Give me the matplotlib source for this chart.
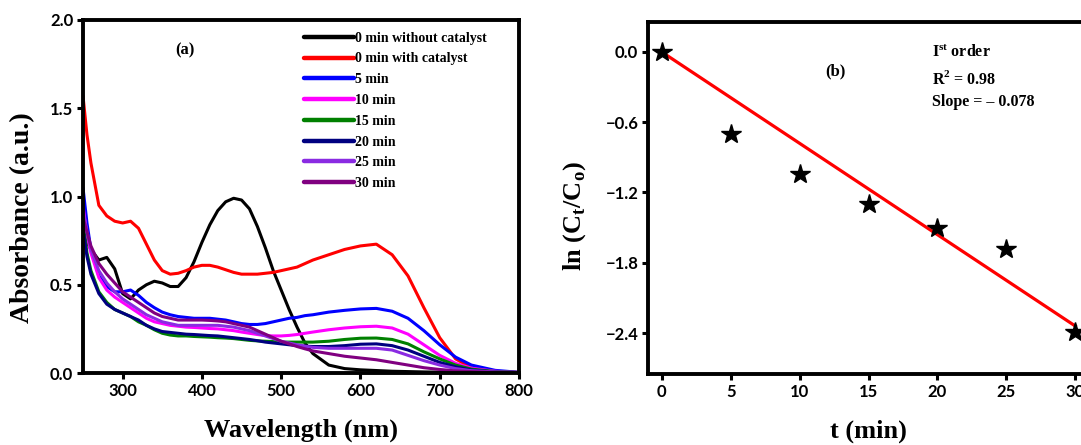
import matplotlib
matplotlib.use("Agg")
import matplotlib.pyplot as plt
from matplotlib.ticker import FuncFormatter

# ---------------- data: panel (a) UV-vis spectra ----------------
wavelength = [250, 255, 260, 270, 280, 290, 300, 310, 320, 330, 340, 350, 360, 370,
              380, 390, 400, 410, 420, 430, 440, 450, 460, 470, 480, 490, 500, 510,
              520, 530, 540, 560, 580, 600, 620, 640, 660, 680, 700, 720, 740, 770, 800]

abs_0_without = [0.80, 0.74, 0.70, 0.64, 0.655, 0.59, 0.45, 0.42, 0.47, 0.50, 0.52, 0.51, 0.49, 0.49,
                 0.54, 0.63, 0.74, 0.84, 0.92, 0.97, 0.99, 0.98, 0.93, 0.83, 0.71, 0.58, 0.47, 0.36,
                 0.26, 0.17, 0.11, 0.045, 0.025, 0.018, 0.014, 0.010, 0.008, 0.006, 0.005, 0.003, 0.002, 0.001, 0.0]
abs_0_with = [1.57, 1.35, 1.19, 0.95, 0.89, 0.86, 0.85, 0.86, 0.82, 0.73, 0.64, 0.58, 0.56, 0.565,
              0.58, 0.60, 0.61, 0.61, 0.60, 0.585, 0.57, 0.56, 0.56, 0.56, 0.565, 0.57, 0.58, 0.59,
              0.60, 0.62, 0.64, 0.67, 0.70, 0.72, 0.73, 0.67, 0.55, 0.37, 0.20, 0.08, 0.03, 0.01, 0.003]
abs_5 = [1.05, 0.85, 0.70, 0.55, 0.49, 0.46, 0.46, 0.47, 0.44, 0.40, 0.37, 0.345, 0.33, 0.32,
         0.315, 0.31, 0.31, 0.31, 0.305, 0.30, 0.29, 0.28, 0.275, 0.275, 0.28, 0.29, 0.30, 0.31,
         0.315, 0.325, 0.33, 0.345, 0.355, 0.363, 0.366, 0.35, 0.31, 0.24, 0.16, 0.09, 0.045, 0.015, 0.004]
abs_10 = [0.95, 0.78, 0.68, 0.54, 0.47, 0.43, 0.40, 0.37, 0.34, 0.31, 0.29, 0.28, 0.27, 0.265,
          0.26, 0.258, 0.255, 0.252, 0.25, 0.245, 0.24, 0.232, 0.225, 0.218, 0.212, 0.21, 0.21, 0.213,
          0.218, 0.225, 0.232, 0.245, 0.255, 0.262, 0.265, 0.255, 0.22, 0.16, 0.10, 0.055, 0.027, 0.01, 0.003]
abs_15 = [0.85, 0.68, 0.58, 0.46, 0.40, 0.36, 0.34, 0.32, 0.29, 0.27, 0.245, 0.225, 0.215, 0.21,
          0.21, 0.207, 0.205, 0.203, 0.20, 0.198, 0.195, 0.19, 0.185, 0.182, 0.18, 0.178, 0.175, 0.175,
          0.175, 0.175, 0.175, 0.18, 0.19, 0.197, 0.198, 0.19, 0.165, 0.12, 0.08, 0.045, 0.022, 0.008, 0.003]
abs_20 = [0.82, 0.66, 0.56, 0.45, 0.39, 0.36, 0.34, 0.32, 0.30, 0.27, 0.25, 0.235, 0.23, 0.225,
          0.22, 0.218, 0.215, 0.212, 0.21, 0.205, 0.20, 0.195, 0.19, 0.183, 0.175, 0.17, 0.165, 0.16,
          0.155, 0.152, 0.15, 0.15, 0.155, 0.163, 0.165, 0.155, 0.13, 0.095, 0.06, 0.035, 0.017, 0.006, 0.002]
abs_25 = [0.92, 0.80, 0.70, 0.58, 0.51, 0.46, 0.42, 0.39, 0.36, 0.33, 0.31, 0.29, 0.28, 0.27,
          0.27, 0.27, 0.27, 0.27, 0.27, 0.265, 0.26, 0.25, 0.24, 0.225, 0.21, 0.195, 0.18, 0.17,
          0.16, 0.152, 0.145, 0.14, 0.14, 0.14, 0.14, 0.13, 0.10, 0.07, 0.045, 0.025, 0.013, 0.006, 0.002]
abs_30 = [0.88, 0.80, 0.72, 0.62, 0.56, 0.51, 0.46, 0.43, 0.40, 0.37, 0.34, 0.32, 0.31, 0.30,
          0.30, 0.30, 0.30, 0.298, 0.295, 0.29, 0.28, 0.27, 0.26, 0.24, 0.22, 0.20, 0.18, 0.165,
          0.15, 0.137, 0.125, 0.11, 0.095, 0.085, 0.075, 0.06, 0.045, 0.03, 0.02, 0.012, 0.008, 0.004, 0.001]

series_labels = ["0 min without catalyst", "0 min with catalyst", "5 min", "10 min",
                 "15 min", "20 min", "25 min", "30 min"]
series_values = [abs_0_without, abs_0_with, abs_5, abs_10, abs_15, abs_20, abs_25, abs_30]
series_colors = ["#000000", "#ff0000", "#0000ff", "#ff00ff", "#008000", "#000080", "#8a2be2", "#800080"]

# ---------------- data: panel (b) kinetics ----------------
time_min = [0, 5, 10, 15, 20, 25, 30]
ln_ratio = [0.0, -0.70, -1.04, -1.30, -1.50, -1.68, -2.39]
fit_slope = -0.078
fit_intercept = 0.0

# ---------------- styling ----------------
serif = ["Liberation Serif", "DejaVu Serif"]
tickfont = ["Lato", "DejaVu Sans"]
W, H = 1081, 445
fig = plt.figure(figsize=(W / 100, H / 100), dpi=100)

def px_axes(l, t, r, b):
    return [l / W, 1 - b / H, (r - l) / W, (b - t) / H]

spine_w = 2.8
minus_fmt = FuncFormatter(lambda v, pos: f"{v:.1f}".replace("-", "\u2212"))

def style_axes(ax):
    for s in ax.spines.values():
        s.set_linewidth(spine_w)
    ax.tick_params(direction="out", length=4, width=2.2, pad=3, labelsize=12)
    for lab in ax.get_xticklabels() + ax.get_yticklabels():
        lab.set_fontfamily(tickfont)
        lab.set_fontweight("bold")

# ---- panel (a)
ax1 = fig.add_axes(px_axes(83, 20, 519, 373))
for lab, vals, col in zip(series_labels, series_values, series_colors):
    ax1.plot(wavelength, vals, color=col, lw=2.2, label=lab, solid_capstyle="round")
ax1.set_xlim(250, 800)
ax1.set_ylim(0, 2.0)
ax1.set_xticks([300, 400, 500, 600, 700, 800])
ax1.set_yticks([0.0, 0.5, 1.0, 1.5, 2.0])
ax1.yaxis.set_major_formatter(minus_fmt)
style_axes(ax1)
ax1.set_xlabel("Wavelength (nm)", fontfamily=serif, fontweight="bold", fontsize=19)
ax1.set_ylabel("Absorbance (a.u.)", fontfamily=serif, fontweight="bold", fontsize=20)
ax1.xaxis.set_label_coords(0.5, -0.13)
ax1.yaxis.set_label_coords(-0.11, 0.44)
ax1.text(378, 1.83, "(a)", fontfamily=serif, fontweight="bold", fontsize=12,
         ha="center", va="center")
leg = ax1.legend(loc="upper left", bbox_to_anchor=(0.507, 0.967), frameon=False,
                 prop={"family": serif, "weight": "bold", "size": 10},
                 handlelength=3.6, handletextpad=0.1, labelspacing=0.56,
                 borderaxespad=0, borderpad=0)
for line in leg.get_lines():
    line.set_linewidth(3.2)

# ---- panel (b)
ax2 = fig.add_axes(px_axes(648, 22, 1089, 374))
ax2.plot(time_min, ln_ratio, linestyle="none", marker="*", markersize=15,
         color="black", zorder=3)
fit_y = [fit_intercept + fit_slope * t for t in (time_min[0], time_min[-1])]
ax2.plot([time_min[0], time_min[-1]], fit_y, color="#ff0000", lw=2.3, zorder=2)
ax2.set_xlim(-1.0, 31.0)
ax2.set_ylim(-2.75, 0.256)
ax2.set_xticks([0, 5, 10, 15, 20, 25, 30])
ax2.set_yticks([0.0, -0.6, -1.2, -1.8, -2.4])
ax2.yaxis.set_major_formatter(minus_fmt)
style_axes(ax2)
ax2.set_xlabel("t (min)", fontfamily=serif, fontweight="bold", fontsize=19)
ax2.set_ylabel(r"ln (C$_\mathregular{t}$/C$_\mathregular{o}$)", fontfamily=serif,
               fontweight="bold", fontsize=19)
ax2.xaxis.set_label_coords(0.5, -0.13)
ax2.yaxis.set_label_coords(-0.135, 0.45)
ax2.text(12.6, -0.17, "(b)", fontfamily=serif, fontweight="bold", fontsize=12,
         ha="center", va="center")
ax2.text(19.6, 0.0, r"I$^\mathregular{st}$ order", fontfamily=serif, fontweight="bold",
         fontsize=11.5, ha="left", va="center")
ax2.text(19.6, -0.23, r"R$^\mathregular{2}$ = 0.98", fontfamily=serif, fontweight="bold",
         fontsize=11.5, ha="left", va="center")
ax2.text(19.6, -0.43, "Slope = \u2013 0.078", fontfamily=serif, fontweight="bold",
         fontsize=11.5, ha="left", va="center")

fig.savefig("out.png", dpi=100)
